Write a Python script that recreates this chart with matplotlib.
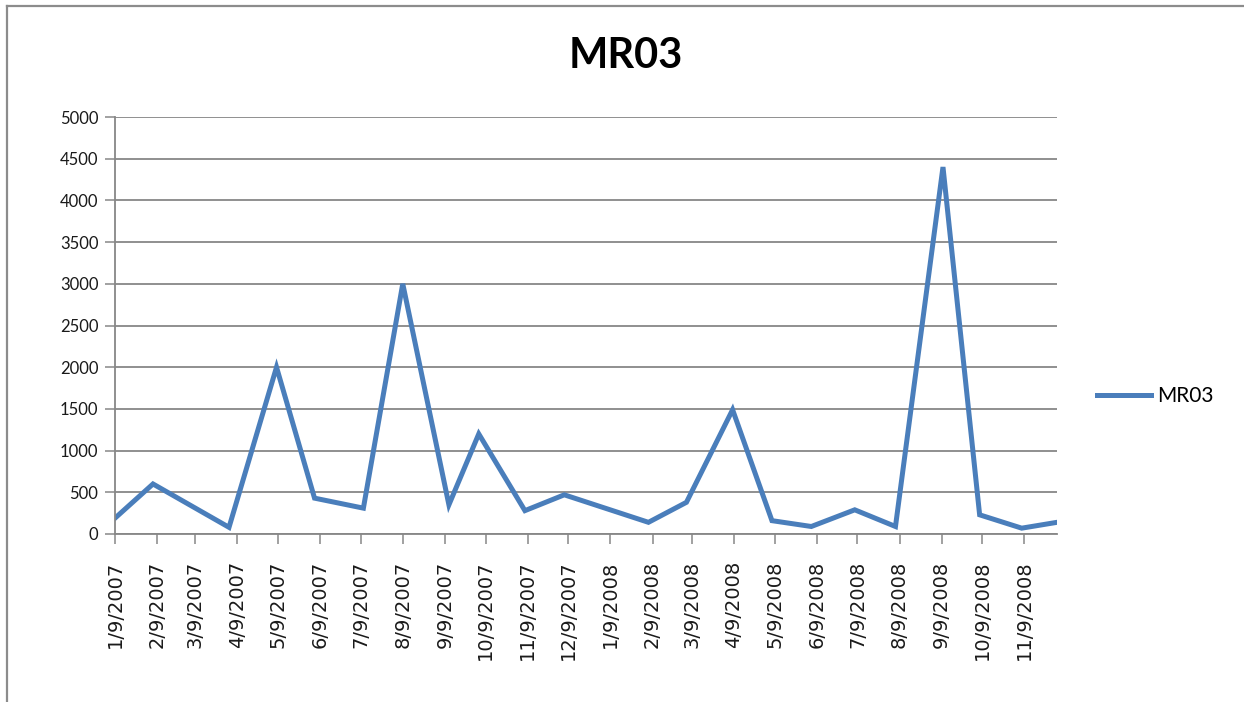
import matplotlib.pyplot as plt
import matplotlib.dates as mdates
from matplotlib.lines import Line2D
import numpy as np
from datetime import datetime

# Messpunkte (Datum, Wert)
dates = ['2007-01-09', '2007-02-06', '2007-04-03', '2007-05-08', '2007-06-05',
         '2007-07-11', '2007-08-09', '2007-09-12', '2007-10-04', '2007-11-07',
         '2007-12-06', '2008-02-06', '2008-03-05', '2008-04-08', '2008-05-07',
         '2008-06-05', '2008-07-07', '2008-08-06', '2008-09-10', '2008-10-07',
         '2008-11-07', '2008-12-03']
values = [190, 600, 80, 2000, 430,
          310, 3000, 350, 1200, 280,
          470, 140, 380, 1490, 160,
          90, 290, 90, 4400, 230,
          70, 140]

tick_labels = ['1/9/2007', '2/9/2007', '3/9/2007', '4/9/2007', '5/9/2007',
               '6/9/2007', '7/9/2007', '8/9/2007', '9/9/2007', '10/9/2007',
               '11/9/2007', '12/9/2007', '1/9/2008', '2/9/2008', '3/9/2008',
               '4/9/2008', '5/9/2008', '6/9/2008', '7/9/2008', '8/9/2008',
               '9/9/2008', '10/9/2008', '11/9/2008']
y_ticks = [0, 500, 1000, 1500, 2000, 2500, 3000, 3500, 4000, 4500, 5000]

series_name = 'MR03'
line_color = '#4a7ebb'
grid_color = '#878787'

x = [datetime.strptime(d, '%Y-%m-%d') for d in dates]
tick_pos = [datetime.strptime(t, '%m/%d/%Y') for t in tick_labels]

W, H = 1244, 702
fig = plt.figure(figsize=(W / 100, H / 100), dpi=100)

# Rahmen des Diagrammbereichs (nur oben und links sichtbar)
fig.add_artist(Line2D([7 / W, 1], [1 - 6 / H, 1 - 6 / H], color='#8c8c8c', lw=1.6))
fig.add_artist(Line2D([7 / W, 7 / W], [0, 1 - 6 / H], color='#8c8c8c', lw=1.6))

ax = fig.add_axes([115 / W, 1 - 534 / H, (1057 - 115) / W, (534 - 117) / H])

ax.plot(x, values, color=line_color, lw=3.6, solid_joinstyle='miter', label=series_name)

ax.set_xlim(x[0], x[-1])
ax.set_ylim(0, 5000)
ax.set_yticks(y_ticks)
ax.set_yticklabels([str(v) for v in y_ticks], fontfamily='Lato', fontsize=12)
ax.set_xticks(tick_pos)
ax.set_xticklabels(tick_labels, rotation=90, fontfamily='DejaVu Sans', fontsize=14)

ax.grid(axis='y', color=grid_color, lw=1.3)
ax.set_axisbelow(True)
for s in ['top', 'right']:
    ax.spines[s].set_visible(False)
for s in ['left', 'bottom']:
    ax.spines[s].set_color(grid_color)
    ax.spines[s].set_linewidth(1.3)
ax.tick_params(axis='both', direction='out', length=7, width=1.1, color=grid_color,
               labelcolor='#1a1a1a')
ax.tick_params(axis='y', pad=5)
ax.tick_params(axis='x', pad=12)

fig.text(626 / W, 1 - 56 / H, 'MR03', ha='center', va='center',
         fontfamily='Lato', fontweight='bold', fontsize=30)

fig.legend(handles=ax.get_lines(), loc='center left',
           bbox_to_anchor=(1097 / W, 1 - 396 / H), frameon=False,
           prop={'family': 'Lato', 'size': 15}, handlelength=2.6,
           handletextpad=0.3, borderpad=0, borderaxespad=0)

fig.savefig('out.png', dpi=100)
